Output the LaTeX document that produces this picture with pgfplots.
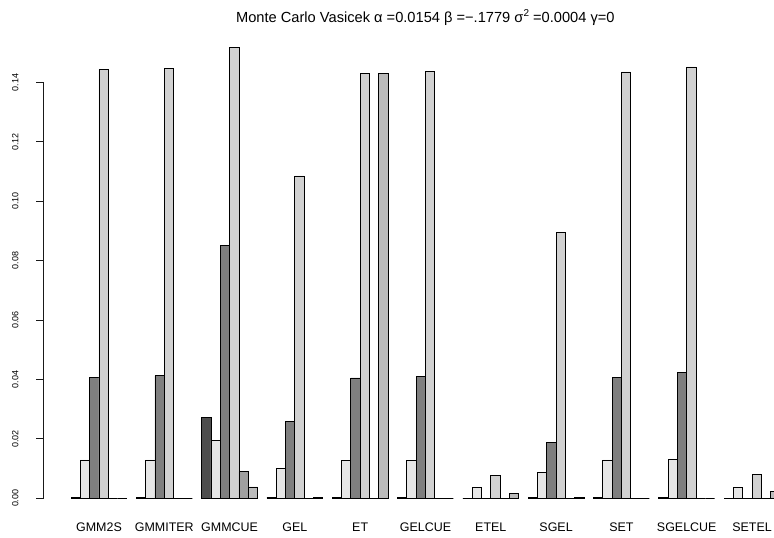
\documentclass[border=0pt]{standalone}
\usepackage{pgfplots}
\pgfplotsset{compat=1.18}
\usepackage{fontspec}
\setmainfont{Liberation Sans}
\definecolor{c1}{RGB}{77,77,77}
\definecolor{c2}{RGB}{230,230,230}
\definecolor{c3}{RGB}{127,127,127}
\definecolor{c4}{RGB}{209,209,209}
\definecolor{c5}{RGB}{160,160,160}
\definecolor{c6}{RGB}{187,187,187}
\definecolor{axcol}{RGB}{25,25,25}
\begin{document}
\begin{tikzpicture}
\begin{axis}[
  at={(-42.64bp,0bp)}, anchor=south west,
  scale only axis, width=774bp, height=487.1bp,
  xmin=-6.611, xmax=76.357, ymin=-0.00607, ymax=0.1579,
  clip=false,
  hide axis,
]
\addplot[ybar, bar width=1, bar shift=0pt, fill=c1, draw=black, line width=0.8bp] coordinates {
(1.5,0.0003) (8.5,0.0003) (15.5,0.0271) (22.5,0.0003) (29.5,0.0003) (36.5,0.0003)
(43.5,0) (50.5,0.0003) (57.5,0.0003) (64.5,0.0003) (71.5,0)};
\addplot[ybar, bar width=1, bar shift=0pt, fill=c2, draw=black, line width=0.8bp] coordinates {
(2.5,0.0129) (9.5,0.0129) (16.5,0.0195) (23.5,0.0101) (30.5,0.0128) (37.5,0.0128)
(44.5,0.0035) (51.5,0.0086) (58.5,0.0129) (65.5,0.0130) (72.5,0.0036)};
\addplot[ybar, bar width=1, bar shift=0pt, fill=c3, draw=black, line width=0.8bp] coordinates {
(3.5,0.0408) (10.5,0.0412) (17.5,0.0850) (24.5,0.0258) (31.5,0.0405) (38.5,0.0411)
(45.5,0) (52.5,0.0188) (59.5,0.0406) (66.5,0.0424) (73.5,0)};
\addplot[ybar, bar width=1, bar shift=0pt, fill=c4, draw=black, line width=0.8bp] coordinates {
(4.5,0.1444) (11.5,0.1447) (18.5,0.1518) (25.5,0.1085) (32.5,0.1430) (39.5,0.1438)
(46.5,0.0076) (53.5,0.0896) (60.5,0.1435) (67.5,0.1452) (74.5,0.0081)};
\addplot[ybar, bar width=1, bar shift=0pt, fill=c5, draw=black, line width=0.8bp] coordinates {
(5.5,0) (12.5,0) (19.5,0.0090) (26.5,0) (33.5,0) (40.5,0)
(47.5,0) (54.5,0) (61.5,0) (68.5,0) (75.5,0)};
\addplot[ybar, bar width=1, bar shift=0pt, fill=c6, draw=black, line width=0.8bp] coordinates {
(6.5,0) (13.5,0) (20.5,0.0038) (27.5,0.0003) (34.5,0.1429) (41.5,0)
(48.5,0.0017) (55.5,0.0003) (62.5,0) (69.5,0) (76.5,0.0022)};
\fill[axcol] ([xshift=-0.5bp,yshift=-0.5bp]axis cs:-2.0,0) rectangle ([xshift=0.5bp,yshift=0.5bp]axis cs:-2.0,0.14);
\draw[axcol, line width=1bp, line cap=rect] (axis cs:-2.0,0) -- (axis cs:-2.0,0.14);
\pgfplotsinvokeforeach{0.00,0.02,0.04,0.06,0.08,0.10,0.12,0.14}{
  \fill[axcol] ([xshift=-7.5bp,yshift=-0.5bp]axis cs:-2.0,#1) rectangle ([yshift=0.5bp]axis cs:-2.0,#1);
  \draw[axcol, line width=1bp] (axis cs:-2.0,#1) -- ++(-7.5bp,0pt);
  \node[rotate=90, anchor=south, inner sep=0pt, font=\fontsize{9}{10}\selectfont]
    at ([xshift=-24bp]axis cs:-2.04,#1) {#1};
}
\pgfplotsinvokeforeach{0,1,2,3,4,5,6,7,8,9,10}{
  \node[anchor=base, inner sep=0pt, font=\fontsize{12.5}{14}\selectfont]
    at ([yshift=-15.4bp]axis cs:{4+7*#1},-0.00607)
    {\ifcase#1 GMM2S\or GMMITER\or GMMCUE\or GEL\or ET\or GELCUE\or ETEL\or SGEL\or SET\or SGELCUE\or SETEL\fi};
}
\end{axis}
\node[anchor=base, inner sep=0pt, font=\fontsize{14.7}{17}\selectfont] at (382.7bp,493.6bp)
  {Monte Carlo Vasicek α =0.0154 β =−.1779 σ\raisebox{0.42em}{\fontsize{10}{10}\selectfont 2} =0.0004 γ=0};
\pgfresetboundingbox
\path (-42.64bp,-21.7bp) rectangle (731.36bp,516.3bp);
\end{tikzpicture}
\end{document}
